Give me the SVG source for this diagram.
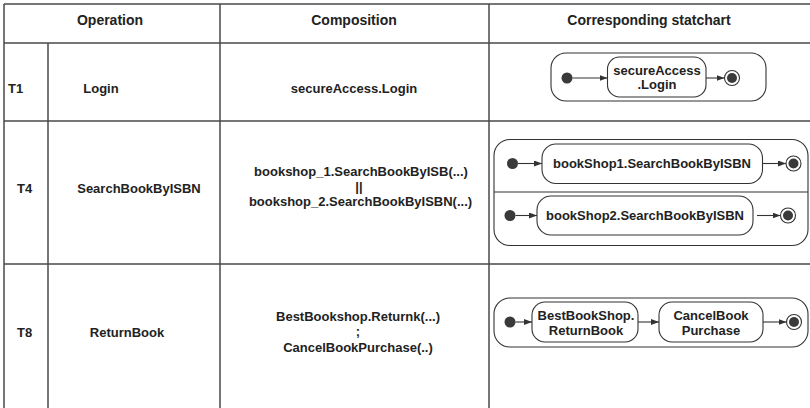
<svg xmlns="http://www.w3.org/2000/svg" width="810" height="408" viewBox="0 0 810 408">
<defs>
<style>
text{font-family:"Liberation Sans",Arial,sans-serif;font-weight:bold;fill:#222;font-size:13px}
.hd{font-size:14px}
.m{text-anchor:middle}
.grid{stroke:#4a4a4a;stroke-width:1.5;fill:none}
.box{fill:#fff;stroke:#333;stroke-width:1.1}
.dot{fill:#3a3a3a}
.fin{fill:#fff;stroke:#333;stroke-width:1.1}
.con{stroke:#333;stroke-width:1.1;fill:none;marker-end:url(#ah)}
</style>
<marker id="ah" markerWidth="8" markerHeight="6" refX="8" refY="3" orient="auto" markerUnits="userSpaceOnUse"><path d="M0,0 L8,3 L0,6 z" fill="#333"/></marker>
</defs>
<rect width="810" height="408" fill="#fff"/>
<g id="table" class="grid">
<path d="M4,4 H810 M4,43 H810 M4,121 H810 M4,264 H810 M4,4 V408 M48,43 V408 M220,4 V408 M489,4 V408"/>
</g>
<g id="table-text">
<text class="hd m" x="110" y="24.5">Operation</text>
<text class="hd m" x="354" y="24.5">Composition</text>
<text class="hd m" x="649" y="24.5">Corresponding statchart</text>
<text x="8" y="92.5">T1</text>
<text class="m" x="101" y="92.5">Login</text>
<text class="m" x="354" y="92.5">secureAccess.Login</text>
<text x="17" y="192.5">T4</text>
<text class="m" x="139" y="192.5">SearchBookByISBN</text>
<text class="m" x="361" y="175.5">bookshop_1.SearchBookByISB(...)</text>
<text class="m" x="359" y="191">||</text>
<text class="m" x="360.5" y="206">bookshop_2.SearchBookByISBN(...)</text>
<text x="17" y="336.5">T8</text>
<text class="m" x="127" y="336.5">ReturnBook</text>
<text class="m" x="358" y="320.5">BestBookshop.Returnk(...)</text>
<text class="m" x="358" y="335.5">;</text>
<text class="m" x="358" y="351.5">CancelBookPurchase(..)</text>
</g>
<g id="sc-T1">
<rect class="box" x="551" y="53" width="215" height="48" rx="15"/>
</g>
<g id="sc-T4">
<rect class="box" x="494" y="139.5" width="314" height="106" rx="16"/>
<line x1="494" y1="192" x2="808" y2="192" stroke="#333" stroke-width="1.1"/>
</g>
<g id="sc-T8">
<rect class="box" x="494" y="298" width="314" height="49" rx="16"/>
</g>
<g id="connectors">
<path class="con" d="M572.5,78 H607.5"/>
<path class="con" d="M706,78 H724.5"/>
<path class="con" d="M518,163.5 H542"/>
<path class="con" d="M762.5,163.5 H786"/>
<path class="con" d="M515.5,215.5 H537"/>
<path class="con" d="M757,215.5 H780.5"/>
<path class="con" d="M515.5,322 H532"/>
<path class="con" d="M638,322 H659"/>
<path class="con" d="M763,322 H786.5"/>
</g>
<g id="t1-init"><circle class="dot" cx="567" cy="78" r="5.5"/></g>
<g id="t1-state">
<rect class="box" x="607.5" y="57" width="98.5" height="40" rx="12"/>
<text class="m" x="657" y="74.5">secureAccess</text>
<text class="m" x="657" y="88.5">.Login</text>
</g>
<g id="t1-final"><circle class="fin" cx="732" cy="78" r="7.5"/><circle class="dot" cx="732" cy="78" r="5"/></g>
<g id="t4a-init"><circle class="dot" cx="512.5" cy="163.5" r="5.5"/></g>
<g id="t4a-state">
<rect class="box" x="542" y="144" width="220.5" height="39.5" rx="14"/>
<text class="m" x="652" y="168">bookShop1.SearchBookByISBN</text>
</g>
<g id="t4a-final"><circle class="fin" cx="793.5" cy="163.5" r="7.5"/><circle class="dot" cx="793.5" cy="163.5" r="5"/></g>
<g id="t4b-init"><circle class="dot" cx="510" cy="215.5" r="5.5"/></g>
<g id="t4b-state">
<rect class="box" x="537" y="196" width="216" height="39" rx="14"/>
<text class="m" x="645" y="220">bookShop2.SearchBookByISBN</text>
</g>
<g id="t4b-final"><circle class="fin" cx="788" cy="215.5" r="7.5"/><circle class="dot" cx="788" cy="215.5" r="5"/></g>
<g id="t8-init"><circle class="dot" cx="510" cy="322" r="5.5"/></g>
<g id="t8-state1">
<rect class="box" x="532" y="302" width="106" height="40" rx="13"/>
<text class="m" x="586" y="319.5">BestBookShop.</text>
<text class="m" x="586" y="334.5">ReturnBook</text>
</g>
<g id="t8-state2">
<rect class="box" x="659" y="302" width="104" height="40" rx="13"/>
<text class="m" x="711" y="319.5">CancelBook</text>
<text class="m" x="711" y="334.5">Purchase</text>
</g>
<g id="t8-final"><circle class="fin" cx="794" cy="322" r="7.5"/><circle class="dot" cx="794" cy="322" r="5"/></g>
</svg>
